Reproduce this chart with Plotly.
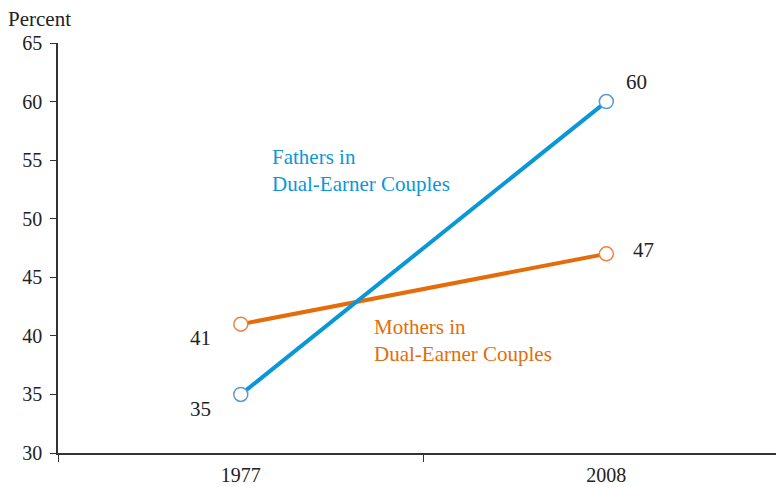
import plotly.graph_objects as go

years = ["1977", "2008"]
fathers = [35, 60]
mothers = [41, 47]
y_ticks = [30, 35, 40, 45, 50, 55, 60, 65]

blue_line = "#0a97d9"
blue_mark = "#5b9bd5"
orange_line = "#e46c0a"
orange_mark = "#ee8040"
font_family = "Liberation Serif, Times New Roman, serif"
xpos = list(range(len(years)))

fig = go.Figure()
fig.add_trace(go.Scatter(x=xpos, y=mothers, mode="lines+markers",
                         line=dict(color=orange_line, width=4),
                         marker=dict(size=14, color="white", line=dict(color=orange_mark, width=1.5)),
                         hoverinfo="skip", cliponaxis=False))
fig.add_trace(go.Scatter(x=xpos, y=fathers, mode="lines+markers",
                         line=dict(color=blue_line, width=4),
                         marker=dict(size=14, color="white", line=dict(color=blue_mark, width=1.5)),
                         hoverinfo="skip", cliponaxis=False))

ann = []
ann.append(dict(x=xpos[1], y=fathers[1], text=str(fathers[1]), xshift=30, yshift=20))
ann.append(dict(x=xpos[1], y=mothers[1], text=str(mothers[1]), xshift=37, yshift=4))
ann.append(dict(x=xpos[0], y=mothers[0], text=str(mothers[0]), xshift=-40, yshift=-14))
ann.append(dict(x=xpos[0], y=fathers[0], text=str(fathers[0]), xshift=-40, yshift=-15))
for a in ann:
    a.update(showarrow=False, font=dict(size=21, color="#222", family=font_family),
             xref="x", yref="y")
ann.append(dict(x=0.08, y=54.1, xref="x", yref="y", text="Fathers in<br>Dual-Earner Couples",
                showarrow=False, xanchor="left", align="left",
                font=dict(size=21, color=blue_line, family=font_family)))
ann.append(dict(x=0.36, y=39.6, xref="x", yref="y", text="Mothers in<br>Dual-Earner Couples",
                showarrow=False, xanchor="left", align="left",
                font=dict(size=21, color=orange_line, family=font_family)))
ann.append(dict(x=0, y=1, xref="paper", yref="paper", text="Percent", showarrow=False,
                xanchor="left", yanchor="bottom", xshift=-52, yshift=10,
                font=dict(size=21, color="#222", family=font_family)))

fig.update_layout(
    width=776, height=479,
    margin=dict(l=50, r=0, t=35, b=34),
    paper_bgcolor="white", plot_bgcolor="white",
    showlegend=False,
    annotations=ann,
    font=dict(family=font_family, color="#222"),
    xaxis=dict(range=[-0.5, 1.486], tickvals=xpos, ticktext=years, ticks="",
               showgrid=False, zeroline=False, showline=True, linecolor="#333", linewidth=1.5,
               tickfont=dict(size=20, family=font_family, color="#222"),
               minor=dict(tickvals=[-0.5, 0.5], ticks="outside", ticklen=7, tickcolor="#333", tickwidth=1),
               ticklabelstandoff=3, automargin=False, fixedrange=True),
    yaxis=dict(range=[30, 65], tickvals=y_ticks, ticks="outside", ticklen=6, tickcolor="#333",
               showgrid=False, zeroline=False, showline=True, linecolor="#333", linewidth=1.5,
               tickfont=dict(size=20, family=font_family, color="#222"),
               ticklabelstandoff=4, automargin=False, fixedrange=True),
)
fig.write_html("out.html")
